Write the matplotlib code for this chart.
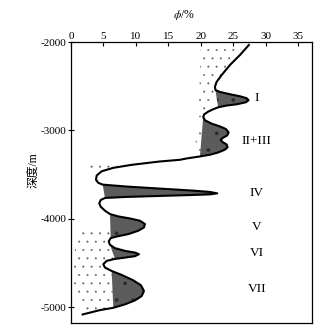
import matplotlib
matplotlib.use('Agg')
import matplotlib.pyplot as plt
import numpy as np

plt.rcParams['font.family'] = ['Liberation Serif', 'Noto Sans CJK SC']
plt.rcParams['mathtext.fontset'] = 'stix'
plt.rcParams['axes.unicode_minus'] = False
plt.rcParams['hatch.linewidth'] = 0.2

# porosity curve (phi %, depth m) top to bottom
phi = [27.38, 26.0, 24.46, 23.18, 22.42, 22.15, 22.26, 22.92, 24.46, 26.0,
       27.03, 27.34, 26.92, 25.49, 23.95, 22.66, 21.89, 21.12, 20.51, 20.35,
       20.62, 21.65, 22.92, 23.85, 24.26, 24.05, 23.43, 23.03, 23.34, 23.95,
       24.11, 23.69, 22.66, 21.38, 19.85, 17.8, 16.77, 13.69, 9.34, 6.51,
       4.72, 3.95, 3.85, 4.2, 4.88, 8.57, 13.69, 18.82, 21.38, 22.51,
       21.38, 18.82, 13.69, 8.57, 5.23, 4.57, 4.35, 4.57, 5.23, 6.0,
       7.28, 9.08, 10.62, 11.38, 11.23, 10.35, 8.82, 7.03, 6.11, 5.8,
       6.0, 6.77, 8.31, 9.85, 10.46, 9.85, 8.31, 6.77, 5.49, 4.97,
       5.23, 6.26, 7.8, 9.58, 10.77, 11.23, 10.88, 9.85, 8.31, 6.51,
       4.46, 1.8]
depth = [-2034, -2148, -2261, -2375, -2451, -2508, -2545, -2565, -2591, -2614,
         -2636, -2659, -2682, -2705, -2719, -2739, -2761, -2788, -2818, -2849,
         -2886, -2924, -2955, -2985, -3023, -3057, -3083, -3106, -3133, -3159,
         -3190, -3219, -3250, -3276, -3295, -3318, -3333, -3352, -3390, -3424,
         -3463, -3511, -3560, -3594, -3614, -3636, -3659, -3682, -3697, -3713,
         -3724, -3731, -3742, -3753, -3765, -3788, -3826, -3864, -3909, -3947,
         -3974, -3997, -4023, -4060, -4099, -4136, -4174, -4201, -4219, -4258,
         -4295, -4333, -4364, -4383, -4401, -4424, -4440, -4455, -4477, -4515,
         -4553, -4591, -4636, -4697, -4753, -4818, -4875, -4924, -4969, -5008,
         -5034, -5083]

# reservoir intervals: (first, last) index into the curve
zones = [(5, 15), (19, 34), (44, 54), (59, 68), (70, 77), (81, 89)]
zone_names = ['I', 'II+III', 'IV', 'V', 'VI', 'VII']
zone_depth = [-2636, -3125, -3705, -4090, -4386, -4795]

# stippled (sandy) areas left of the curve
stipple_areas = [
    [(20.0, -2030), (26.8, -2030), (24.4, -2261), (22.4, -2451), (22.1, -2700),
     (20.3, -2852), (19.6, -2850)],
    [(19.2, -3000), (20.6, -2990), (20.4, -3290), (19.2, -3290)],
    [(2.6, -3360), (8.0, -3380), (5.0, -3440), (2.6, -3460)],
    [(1.6, -4110), (6.0, -4090), (6.1, -4219), (5.8, -4258), (6.0, -4295),
     (6.7, -4455), (5.0, -4515), (6.3, -4591), (6.5, -5008), (1.9, -5075),
     (0.3, -4800), (0.6, -4350)],
]

fig = plt.figure(figsize=(3.31, 3.31), dpi=100)
ax = fig.add_axes([71 / 331, 1 - 323 / 331, 241 / 331, 281 / 331])

for area in stipple_areas:
    xs = [p[0] for p in area]
    ys = [p[1] for p in area]
    ax.fill(xs, ys, facecolor='none', edgecolor='#606060', hatch='..', linewidth=0, zorder=1)

for (i, j) in zones:
    ax.fill(phi[i:j + 1], depth[i:j + 1], facecolor='#5c5c5c', edgecolor='#2a2a2a',
            hatch='.', linewidth=0, zorder=2)

ax.plot(phi, depth, color='black', linewidth=1.5, solid_joinstyle='round', zorder=3)

for name, d in zip(zone_names, zone_depth):
    ax.text(28.6, d, name, ha='center', va='center', fontsize=9.5)

ax.set_xlim(0, 37.1)
ax.set_ylim(-5180, -2000)
ax.set_xticks(np.arange(0, 36, 5))
ax.set_yticks([-5000, -4000, -3000, -2000])
ax.xaxis.tick_top()
ax.tick_params(axis='x', direction='in', length=3, width=0.8, labelsize=8, pad=1)
ax.tick_params(axis='y', direction='inout', length=4, width=0.8, labelsize=8, pad=1)
for s in ax.spines.values():
    s.set_linewidth(0.9)

fig.text(184 / 331, 1 - 15 / 331, r'$\phi$/%', ha='center', va='center', fontsize=8.5)
fig.text(33 / 331, 1 - 170 / 331, '深度/m', rotation=90, ha='center', va='center', fontsize=8.5)

fig.savefig('out.png', dpi=100)
